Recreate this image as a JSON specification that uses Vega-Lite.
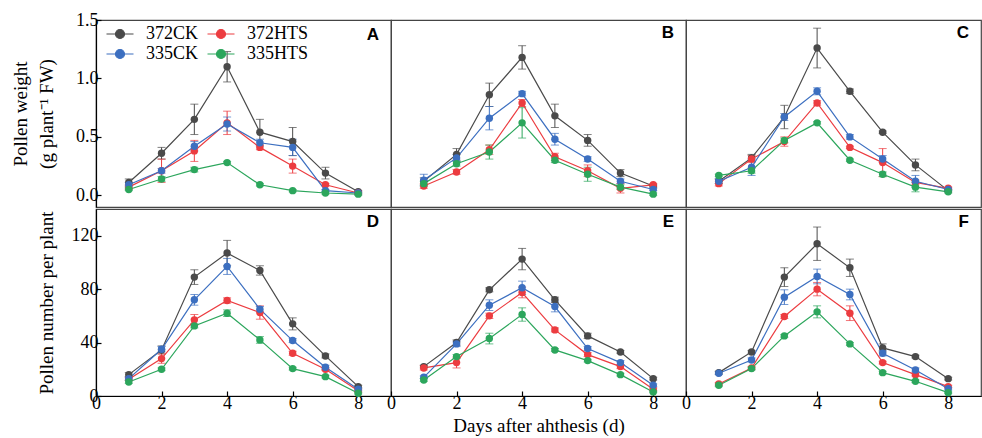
{
  "$schema": "https://vega.github.io/schema/vega-lite/v6.json",
  "padding": {"left": 10, "top": 10, "right": 0, "bottom": 0},
  "background": "white",
  "config": {
    "view": {"stroke": "#444", "strokeWidth": 1.2},
    "font": "Liberation Serif",
    "concat": {"spacing": 0},
    "axis": {
      "labelFont": "Liberation Serif", "labelFontSize": 18, "labelColor": "#000",
      "titleFont": "Liberation Serif", "titleFontSize": 19, "titleFontWeight": "normal", "titleColor": "#000",
      "domainColor": "#000", "domainWidth": 1.2, "tickColor": "#000", "tickWidth": 1.2,
      "tickSize": -5, "labelPadding": 3, "labelFlush": false, "grid": false
    },
    "title": {"anchor": "end", "frame": "group", "offset": -22, "dx": -12, "baseline": "alphabetic", "font": "Liberation Sans", "fontWeight": "bold", "fontSize": 17, "color": "#000"}
  },
  "data": {"values": [
    {"p":"A","g":"372CK","d":1,"v":0.11,"e":0.03},{"p":"A","g":"372CK","d":2,"v":0.36,"e":0.05},{"p":"A","g":"372CK","d":3,"v":0.65,"e":0.13},{"p":"A","g":"372CK","d":4,"v":1.10,"e":0.13},{"p":"A","g":"372CK","d":5,"v":0.54,"e":0.11},{"p":"A","g":"372CK","d":6,"v":0.46,"e":0.12},{"p":"A","g":"372CK","d":7,"v":0.19,"e":0.05},{"p":"A","g":"372CK","d":8,"v":0.03,"e":0.01},
    {"p":"A","g":"372HTS","d":1,"v":0.07,"e":0.02},{"p":"A","g":"372HTS","d":2,"v":0.21,"e":0.10},{"p":"A","g":"372HTS","d":3,"v":0.38,"e":0.09},{"p":"A","g":"372HTS","d":4,"v":0.62,"e":0.10},{"p":"A","g":"372HTS","d":5,"v":0.41,"e":0.02},{"p":"A","g":"372HTS","d":6,"v":0.25,"e":0.06},{"p":"A","g":"372HTS","d":7,"v":0.09,"e":0.01},{"p":"A","g":"372HTS","d":8,"v":0.02,"e":0.01},
    {"p":"A","g":"335CK","d":1,"v":0.09,"e":0.02},{"p":"A","g":"335CK","d":2,"v":0.21,"e":0.02},{"p":"A","g":"335CK","d":3,"v":0.42,"e":0.04},{"p":"A","g":"335CK","d":4,"v":0.61,"e":0.06},{"p":"A","g":"335CK","d":5,"v":0.45,"e":0.03},{"p":"A","g":"335CK","d":6,"v":0.41,"e":0.07},{"p":"A","g":"335CK","d":7,"v":0.04,"e":0.01},{"p":"A","g":"335CK","d":8,"v":0.02,"e":0.01},
    {"p":"A","g":"335HTS","d":1,"v":0.05,"e":0.01},{"p":"A","g":"335HTS","d":2,"v":0.14,"e":0.02},{"p":"A","g":"335HTS","d":3,"v":0.22,"e":0.02},{"p":"A","g":"335HTS","d":4,"v":0.28,"e":0.01},{"p":"A","g":"335HTS","d":5,"v":0.09,"e":0.01},{"p":"A","g":"335HTS","d":6,"v":0.04,"e":0.01},{"p":"A","g":"335HTS","d":7,"v":0.02,"e":0.01},{"p":"A","g":"335HTS","d":8,"v":0.01,"e":0.01},

    {"p":"B","g":"372CK","d":1,"v":0.12,"e":0.03},{"p":"B","g":"372CK","d":2,"v":0.35,"e":0.05},{"p":"B","g":"372CK","d":3,"v":0.86,"e":0.10},{"p":"B","g":"372CK","d":4,"v":1.18,"e":0.10},{"p":"B","g":"372CK","d":5,"v":0.68,"e":0.10},{"p":"B","g":"372CK","d":6,"v":0.47,"e":0.05},{"p":"B","g":"372CK","d":7,"v":0.19,"e":0.03},{"p":"B","g":"372CK","d":8,"v":0.08,"e":0.01},
    {"p":"B","g":"372HTS","d":1,"v":0.08,"e":0.02},{"p":"B","g":"372HTS","d":2,"v":0.20,"e":0.02},{"p":"B","g":"372HTS","d":3,"v":0.39,"e":0.04},{"p":"B","g":"372HTS","d":4,"v":0.79,"e":0.03},{"p":"B","g":"372HTS","d":5,"v":0.33,"e":0.03},{"p":"B","g":"372HTS","d":6,"v":0.21,"e":0.05},{"p":"B","g":"372HTS","d":7,"v":0.06,"e":0.04},{"p":"B","g":"372HTS","d":8,"v":0.09,"e":0.01},
    {"p":"B","g":"335CK","d":1,"v":0.13,"e":0.05},{"p":"B","g":"335CK","d":2,"v":0.32,"e":0.03},{"p":"B","g":"335CK","d":3,"v":0.66,"e":0.10},{"p":"B","g":"335CK","d":4,"v":0.87,"e":0.02},{"p":"B","g":"335CK","d":5,"v":0.48,"e":0.05},{"p":"B","g":"335CK","d":6,"v":0.31,"e":0.02},{"p":"B","g":"335CK","d":7,"v":0.12,"e":0.02},{"p":"B","g":"335CK","d":8,"v":0.05,"e":0.01},
    {"p":"B","g":"335HTS","d":1,"v":0.10,"e":0.02},{"p":"B","g":"335HTS","d":2,"v":0.27,"e":0.02},{"p":"B","g":"335HTS","d":3,"v":0.37,"e":0.06},{"p":"B","g":"335HTS","d":4,"v":0.62,"e":0.13},{"p":"B","g":"335HTS","d":5,"v":0.30,"e":0.02},{"p":"B","g":"335HTS","d":6,"v":0.18,"e":0.06},{"p":"B","g":"335HTS","d":7,"v":0.07,"e":0.02},{"p":"B","g":"335HTS","d":8,"v":0.01,"e":0.01},

    {"p":"C","g":"372CK","d":1,"v":0.12,"e":0.02},{"p":"C","g":"372CK","d":2,"v":0.32,"e":0.03},{"p":"C","g":"372CK","d":3,"v":0.67,"e":0.10},{"p":"C","g":"372CK","d":4,"v":1.26,"e":0.17},{"p":"C","g":"372CK","d":5,"v":0.89,"e":0.02},{"p":"C","g":"372CK","d":6,"v":0.54,"e":0.01},{"p":"C","g":"372CK","d":7,"v":0.26,"e":0.05},{"p":"C","g":"372CK","d":8,"v":0.04,"e":0.01},
    {"p":"C","g":"372HTS","d":1,"v":0.10,"e":0.02},{"p":"C","g":"372HTS","d":2,"v":0.31,"e":0.03},{"p":"C","g":"372HTS","d":3,"v":0.46,"e":0.04},{"p":"C","g":"372HTS","d":4,"v":0.79,"e":0.02},{"p":"C","g":"372HTS","d":5,"v":0.41,"e":0.01},{"p":"C","g":"372HTS","d":6,"v":0.28,"e":0.12},{"p":"C","g":"372HTS","d":7,"v":0.11,"e":0.02},{"p":"C","g":"372HTS","d":8,"v":0.06,"e":0.01},
    {"p":"C","g":"335CK","d":1,"v":0.12,"e":0.02},{"p":"C","g":"335CK","d":2,"v":0.24,"e":0.07},{"p":"C","g":"335CK","d":3,"v":0.67,"e":0.03},{"p":"C","g":"335CK","d":4,"v":0.89,"e":0.03},{"p":"C","g":"335CK","d":5,"v":0.50,"e":0.02},{"p":"C","g":"335CK","d":6,"v":0.31,"e":0.03},{"p":"C","g":"335CK","d":7,"v":0.12,"e":0.05},{"p":"C","g":"335CK","d":8,"v":0.05,"e":0.01},
    {"p":"C","g":"335HTS","d":1,"v":0.17,"e":0.01},{"p":"C","g":"335HTS","d":2,"v":0.21,"e":0.02},{"p":"C","g":"335HTS","d":3,"v":0.47,"e":0.02},{"p":"C","g":"335HTS","d":4,"v":0.62,"e":0.01},{"p":"C","g":"335HTS","d":5,"v":0.30,"e":0.01},{"p":"C","g":"335HTS","d":6,"v":0.18,"e":0.02},{"p":"C","g":"335HTS","d":7,"v":0.07,"e":0.04},{"p":"C","g":"335HTS","d":8,"v":0.03,"e":0.01},

    {"p":"D","g":"372CK","d":1,"v":16,"e":1.5},{"p":"D","g":"372CK","d":2,"v":34.5,"e":3},{"p":"D","g":"372CK","d":3,"v":89,"e":5.5},{"p":"D","g":"372CK","d":4,"v":107,"e":9.5},{"p":"D","g":"372CK","d":5,"v":94,"e":3.5},{"p":"D","g":"372CK","d":6,"v":54,"e":4.5},{"p":"D","g":"372CK","d":7,"v":30,"e":1.5},{"p":"D","g":"372CK","d":8,"v":7,"e":1},
    {"p":"D","g":"372HTS","d":1,"v":12.5,"e":1},{"p":"D","g":"372HTS","d":2,"v":28,"e":3.5},{"p":"D","g":"372HTS","d":3,"v":57,"e":4},{"p":"D","g":"372HTS","d":4,"v":71.5,"e":2},{"p":"D","g":"372HTS","d":5,"v":62.5,"e":5},{"p":"D","g":"372HTS","d":6,"v":32,"e":1.5},{"p":"D","g":"372HTS","d":7,"v":20,"e":1},{"p":"D","g":"372HTS","d":8,"v":4,"e":1},
    {"p":"D","g":"335CK","d":1,"v":13,"e":1},{"p":"D","g":"335CK","d":2,"v":35,"e":2},{"p":"D","g":"335CK","d":3,"v":72,"e":4},{"p":"D","g":"335CK","d":4,"v":97,"e":6},{"p":"D","g":"335CK","d":5,"v":65,"e":2},{"p":"D","g":"335CK","d":6,"v":41.5,"e":1.5},{"p":"D","g":"335CK","d":7,"v":21.5,"e":1.5},{"p":"D","g":"335CK","d":8,"v":5,"e":1},
    {"p":"D","g":"335HTS","d":1,"v":10.5,"e":1},{"p":"D","g":"335HTS","d":2,"v":20,"e":1},{"p":"D","g":"335HTS","d":3,"v":52.5,"e":1.5},{"p":"D","g":"335HTS","d":4,"v":62,"e":2.5},{"p":"D","g":"335HTS","d":5,"v":42,"e":2.5},{"p":"D","g":"335HTS","d":6,"v":20.5,"e":1},{"p":"D","g":"335HTS","d":7,"v":14.5,"e":1},{"p":"D","g":"335HTS","d":8,"v":2,"e":0.5},

    {"p":"E","g":"372CK","d":1,"v":22,"e":1},{"p":"E","g":"372CK","d":2,"v":40,"e":2},{"p":"E","g":"372CK","d":3,"v":79.5,"e":1.5},{"p":"E","g":"372CK","d":4,"v":102.5,"e":8},{"p":"E","g":"372CK","d":5,"v":72,"e":2},{"p":"E","g":"372CK","d":6,"v":45,"e":2},{"p":"E","g":"372CK","d":7,"v":33,"e":1},{"p":"E","g":"372CK","d":8,"v":13,"e":1},
    {"p":"E","g":"372HTS","d":1,"v":21,"e":1.5},{"p":"E","g":"372HTS","d":2,"v":25,"e":4},{"p":"E","g":"372HTS","d":3,"v":60,"e":2},{"p":"E","g":"372HTS","d":4,"v":77.5,"e":4},{"p":"E","g":"372HTS","d":5,"v":49.5,"e":1.5},{"p":"E","g":"372HTS","d":6,"v":31,"e":1.5},{"p":"E","g":"372HTS","d":7,"v":22,"e":1.5},{"p":"E","g":"372HTS","d":8,"v":5,"e":1},
    {"p":"E","g":"335CK","d":1,"v":14,"e":1},{"p":"E","g":"335CK","d":2,"v":39,"e":2},{"p":"E","g":"335CK","d":3,"v":68,"e":4},{"p":"E","g":"335CK","d":4,"v":81,"e":5},{"p":"E","g":"335CK","d":5,"v":67,"e":4},{"p":"E","g":"335CK","d":6,"v":35.5,"e":1.5},{"p":"E","g":"335CK","d":7,"v":25,"e":1.5},{"p":"E","g":"335CK","d":8,"v":8,"e":1},
    {"p":"E","g":"335HTS","d":1,"v":12,"e":1},{"p":"E","g":"335HTS","d":2,"v":29.5,"e":1.5},{"p":"E","g":"335HTS","d":3,"v":43,"e":4},{"p":"E","g":"335HTS","d":4,"v":61,"e":5},{"p":"E","g":"335HTS","d":5,"v":34.5,"e":1},{"p":"E","g":"335HTS","d":6,"v":26.5,"e":1},{"p":"E","g":"335HTS","d":7,"v":16,"e":1},{"p":"E","g":"335HTS","d":8,"v":3,"e":0.5},

    {"p":"F","g":"372CK","d":1,"v":17.5,"e":1},{"p":"F","g":"372CK","d":2,"v":33,"e":1},{"p":"F","g":"372CK","d":3,"v":89,"e":7},{"p":"F","g":"372CK","d":4,"v":114,"e":12.5},{"p":"F","g":"372CK","d":5,"v":96,"e":6.5},{"p":"F","g":"372CK","d":6,"v":36,"e":3},{"p":"F","g":"372CK","d":7,"v":29.5,"e":1},{"p":"F","g":"372CK","d":8,"v":13,"e":1},
    {"p":"F","g":"372HTS","d":1,"v":9,"e":1},{"p":"F","g":"372HTS","d":2,"v":21,"e":1},{"p":"F","g":"372HTS","d":3,"v":59.5,"e":1.5},{"p":"F","g":"372HTS","d":4,"v":80,"e":5},{"p":"F","g":"372HTS","d":5,"v":62,"e":5.5},{"p":"F","g":"372HTS","d":6,"v":25,"e":1},{"p":"F","g":"372HTS","d":7,"v":16,"e":1},{"p":"F","g":"372HTS","d":8,"v":7,"e":1},
    {"p":"F","g":"335CK","d":1,"v":17,"e":1},{"p":"F","g":"335CK","d":2,"v":27,"e":1.5},{"p":"F","g":"335CK","d":3,"v":74,"e":5.5},{"p":"F","g":"335CK","d":4,"v":89.5,"e":5.5},{"p":"F","g":"335CK","d":5,"v":76,"e":4},{"p":"F","g":"335CK","d":6,"v":32,"e":2},{"p":"F","g":"335CK","d":7,"v":19.5,"e":1.5},{"p":"F","g":"335CK","d":8,"v":5.5,"e":1},
    {"p":"F","g":"335HTS","d":1,"v":8,"e":1},{"p":"F","g":"335HTS","d":2,"v":20.5,"e":1},{"p":"F","g":"335HTS","d":3,"v":45,"e":1},{"p":"F","g":"335HTS","d":4,"v":63,"e":4.5},{"p":"F","g":"335HTS","d":5,"v":39,"e":1},{"p":"F","g":"335HTS","d":6,"v":17.5,"e":1},{"p":"F","g":"335HTS","d":7,"v":11,"e":1},{"p":"F","g":"335HTS","d":8,"v":2.5,"e":0.5}
  ]},
  "vconcat": [
    {
      "bounds": "flush",
      "hconcat": [
        {
          "width": 295, "height": 187,
          "title": {"text": "A", "offset": -33},
          "transform": [{"filter": "datum.p === 'A'"}],
          "encoding": {
            "x": {"field": "d", "type": "quantitative", "scale": {"domain": [0, 9], "nice": false}, "axis": null},
            "y": {"field": "v", "type": "quantitative", "scale": {"domain": [-0.1, 1.5], "nice": false, "zero": false},
                  "axis": {"values": [0, 0.5, 1, 1.5], "format": ".1f", "title": ["Pollen weight", "(g plant⁻¹ FW)"], "titlePadding": 8, "titleLineHeight": 26, "minExtent": 32, "maxExtent": 32}},
            "color": {"field": "g", "type": "nominal",
                      "scale": {"domain": ["372CK", "335CK", "372HTS", "335HTS"], "range": ["#4a4a4a", "#3c6fc0", "#ec3c40", "#2ca65c"]},
                      "legend": {"orient": "none", "legendX": 15, "legendY": 5, "columns": 2, "title": null, "padding": 0,
                                 "symbolType": "M-3,0H3M-1,0A1,1 0 1,0 1,0A1,1 0 1,0 -1,0Z", "symbolSize": 81, "symbolStrokeWidth": 1.2,
                                 "labelFont": "Liberation Serif", "labelFontSize": 18, "labelColor": "#000", "labelOffset": 17,
                                 "columnPadding": 6, "rowPadding": 2,
                                 "encode": {"symbols": {"update": {
                                   "fill": {"signal": "datum.value === '372CK' ? '#4a4a4a' : datum.value === '372HTS' ? '#ec3c40' : datum.value === '335CK' ? '#3c6fc0' : '#2ca65c'"},
                                   "stroke": {"signal": "datum.value === '372CK' ? '#4a4a4a' : datum.value === '372HTS' ? '#ec3c40' : datum.value === '335CK' ? '#3c6fc0' : '#2ca65c'"},
                                   "opacity": {"value": 1}}}}}}
          },
          "layer": [
            {"mark": {"type": "errorbar", "ticks": {"size": 8}, "thickness": 1}, "encoding": {"yError": {"field": "e"}}},
            {"mark": {"type": "line", "strokeWidth": 1.2}},
            {"mark": {"type": "point", "filled": true, "size": 55, "opacity": 1}}
          ]
        },
        {
          "width": 295, "height": 187,
          "title": "B",
          "transform": [{"filter": "datum.p === 'B'"}],
          "encoding": {
            "x": {"field": "d", "type": "quantitative", "scale": {"domain": [0, 9], "nice": false}, "axis": null},
            "y": {"field": "v", "type": "quantitative", "scale": {"domain": [-0.1, 1.5], "nice": false, "zero": false}, "axis": null},
            "color": {"field": "g", "type": "nominal", "scale": {"domain": ["372CK", "335CK", "372HTS", "335HTS"], "range": ["#4a4a4a", "#3c6fc0", "#ec3c40", "#2ca65c"]}, "legend": null}
          },
          "layer": [
            {"mark": {"type": "errorbar", "ticks": {"size": 8}, "thickness": 1}, "encoding": {"yError": {"field": "e"}}},
            {"mark": {"type": "line", "strokeWidth": 1.2}},
            {"mark": {"type": "point", "filled": true, "size": 55, "opacity": 1}}
          ]
        },
        {
          "width": 295, "height": 187,
          "title": "C",
          "transform": [{"filter": "datum.p === 'C'"}],
          "encoding": {
            "x": {"field": "d", "type": "quantitative", "scale": {"domain": [0, 9], "nice": false}, "axis": null},
            "y": {"field": "v", "type": "quantitative", "scale": {"domain": [-0.1, 1.5], "nice": false, "zero": false}, "axis": null},
            "color": {"field": "g", "type": "nominal", "scale": {"domain": ["372CK", "335CK", "372HTS", "335HTS"], "range": ["#4a4a4a", "#3c6fc0", "#ec3c40", "#2ca65c"]}, "legend": null}
          },
          "layer": [
            {"mark": {"type": "errorbar", "ticks": {"size": 8}, "thickness": 1}, "encoding": {"yError": {"field": "e"}}},
            {"mark": {"type": "line", "strokeWidth": 1.2}},
            {"mark": {"type": "point", "filled": true, "size": 55, "opacity": 1}}
          ]
        }
      ]
    },
    {
      "bounds": "flush",
      "hconcat": [
        {
          "width": 295, "height": 187,
          "title": "D",
          "transform": [{"filter": "datum.p === 'D'"}],
          "encoding": {
            "x": {"field": "d", "type": "quantitative", "scale": {"domain": [0, 9], "nice": false}, "axis": {"values": [0, 2, 4, 6, 8], "format": "d", "title": null}},
            "y": {"field": "v", "type": "quantitative", "scale": {"domain": [0, 140], "nice": false},
                  "axis": {"values": [0, 40, 80, 120], "format": "d", "title": ["\u00a0", "Pollen number per plant"], "titlePadding": 8, "titleLineHeight": 26, "minExtent": 32, "maxExtent": 32}},
            "color": {"field": "g", "type": "nominal", "scale": {"domain": ["372CK", "335CK", "372HTS", "335HTS"], "range": ["#4a4a4a", "#3c6fc0", "#ec3c40", "#2ca65c"]}, "legend": null}
          },
          "layer": [
            {"mark": {"type": "errorbar", "ticks": {"size": 8}, "thickness": 1}, "encoding": {"yError": {"field": "e"}}},
            {"mark": {"type": "line", "strokeWidth": 1.2}},
            {"mark": {"type": "point", "filled": true, "size": 55, "opacity": 1}}
          ]
        },
        {
          "width": 295, "height": 187,
          "title": "E",
          "transform": [{"filter": "datum.p === 'E'"}],
          "encoding": {
            "x": {"field": "d", "type": "quantitative", "scale": {"domain": [0, 9], "nice": false}, "axis": {"values": [0, 2, 4, 6, 8], "format": "d", "title": "Days after ahthesis (d)", "titlePadding": 4}},
            "y": {"field": "v", "type": "quantitative", "scale": {"domain": [0, 140], "nice": false}, "axis": null},
            "color": {"field": "g", "type": "nominal", "scale": {"domain": ["372CK", "335CK", "372HTS", "335HTS"], "range": ["#4a4a4a", "#3c6fc0", "#ec3c40", "#2ca65c"]}, "legend": null}
          },
          "layer": [
            {"mark": {"type": "errorbar", "ticks": {"size": 8}, "thickness": 1}, "encoding": {"yError": {"field": "e"}}},
            {"mark": {"type": "line", "strokeWidth": 1.2}},
            {"mark": {"type": "point", "filled": true, "size": 55, "opacity": 1}}
          ]
        },
        {
          "width": 295, "height": 187,
          "title": "F",
          "transform": [{"filter": "datum.p === 'F'"}],
          "encoding": {
            "x": {"field": "d", "type": "quantitative", "scale": {"domain": [0, 9], "nice": false}, "axis": {"values": [0, 2, 4, 6, 8], "format": "d", "title": null}},
            "y": {"field": "v", "type": "quantitative", "scale": {"domain": [0, 140], "nice": false}, "axis": null},
            "color": {"field": "g", "type": "nominal", "scale": {"domain": ["372CK", "335CK", "372HTS", "335HTS"], "range": ["#4a4a4a", "#3c6fc0", "#ec3c40", "#2ca65c"]}, "legend": null}
          },
          "layer": [
            {"mark": {"type": "errorbar", "ticks": {"size": 8}, "thickness": 1}, "encoding": {"yError": {"field": "e"}}},
            {"mark": {"type": "line", "strokeWidth": 1.2}},
            {"mark": {"type": "point", "filled": true, "size": 55, "opacity": 1}}
          ]
        }
      ]
    }
  ]
}
